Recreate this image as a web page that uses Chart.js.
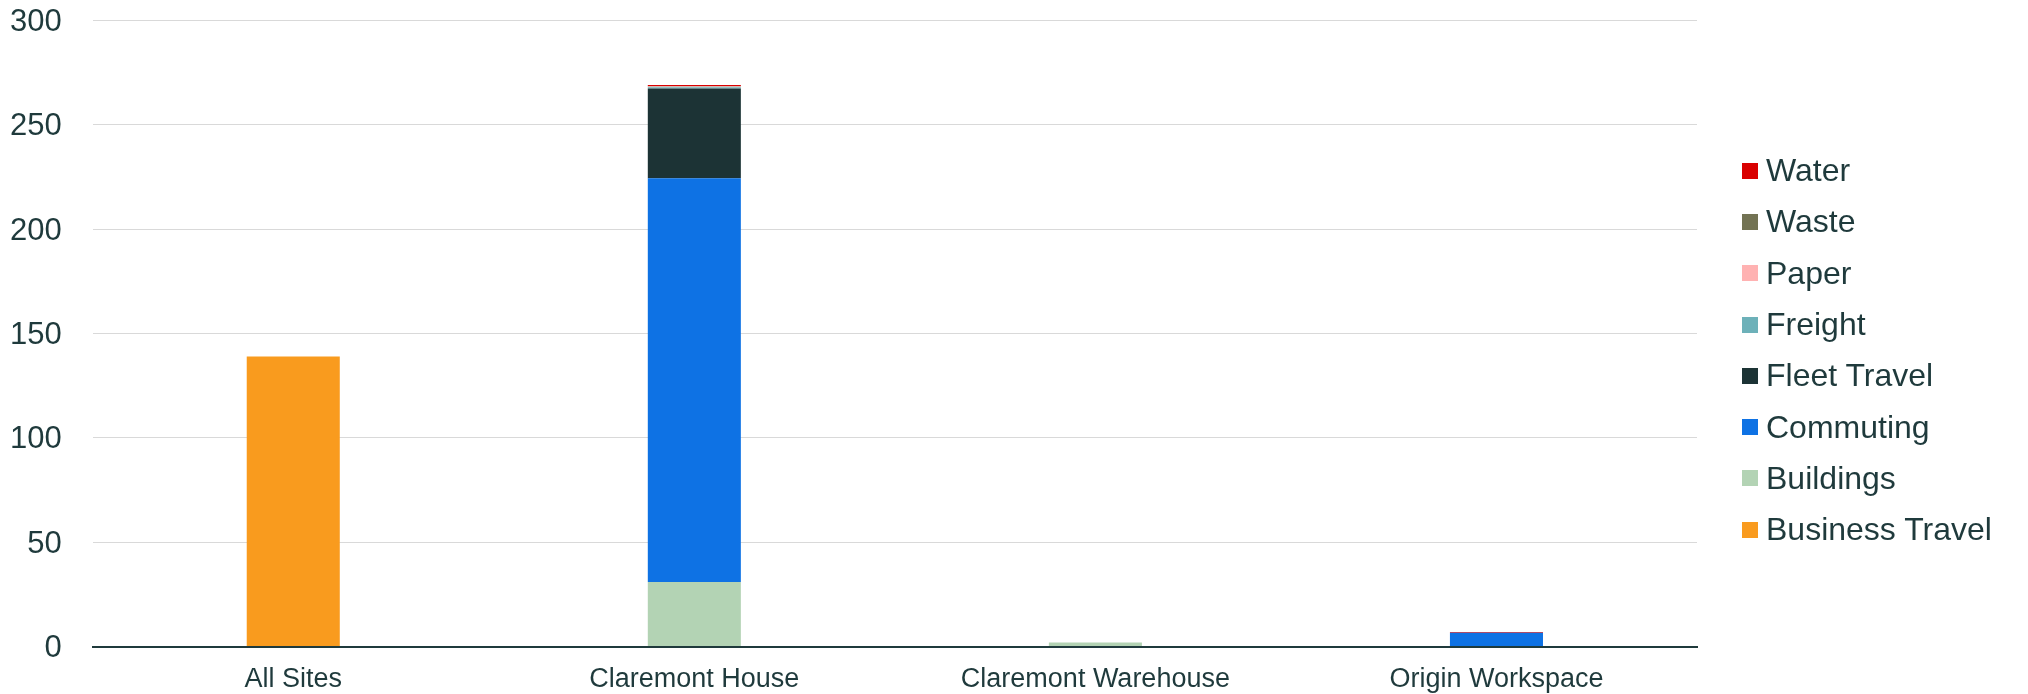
<!DOCTYPE html>
<html>
<head>
<meta charset="utf-8">
<script src="https://cdn.jsdelivr.net/npm/chart.js@4/dist/chart.umd.min.js"></script>
<style>
  html, body { margin: 0; padding: 0; background: #ffffff; }
  #wrap { width: 2028px; height: 694px; position: relative; }
  #legend {
    position: absolute; left: 1742px; top: 145px;
    font-family: "Liberation Sans", Arial, Helvetica, sans-serif;
    font-size: 32px; color: #1f3a3c;
  }
  #legend .item { display: flex; align-items: center; height: 51.3px; white-space: nowrap; }
  #legend .box { width: 16px; height: 16px; margin-right: 8px; flex: none; }
</style>
</head>
<body>
<div id="wrap"><canvas id="chart"></canvas><div id="legend"></div></div>
<script>
// Emissions by site, stacked by source
const categories = ['All Sites', 'Claremont House', 'Claremont Warehouse', 'Origin Workspace'];
const businessTravel = [139, 0, 0, 0];
const buildings      = [0, 31, 2, 0];
const commuting      = [0, 193.5, 0, 6.6];
const fleetTravel    = [0, 43, 0, 0];
const freight        = [0, 0.5, 0, 0];
const paper          = [0, 0.4, 0, 0];
const waste          = [0, 0.2, 0, 0];
const water          = [0, 0.5, 0, 0.4];
const yTicks = [0, 50, 100, 150, 200, 250, 300];

const textColor = '#1f3a3c';
const fontFamily = '"Liberation Sans", Arial, Helvetica, sans-serif';

const series = [
  { label: 'Business Travel', data: businessTravel, color: '#f99b1e' },
  { label: 'Buildings',       data: buildings,      color: '#b3d3b4' },
  { label: 'Commuting',       data: commuting,      color: '#0e72e4' },
  { label: 'Fleet Travel',    data: fleetTravel,    color: '#1c3335' },
  { label: 'Freight',         data: freight,        color: '#6db1b9' },
  { label: 'Paper',           data: paper,          color: '#ffb2b2' },
  { label: 'Waste',           data: waste,          color: '#737353' },
  { label: 'Water',           data: water,          color: '#d90000' }
];

const chart = new Chart(document.getElementById('chart'), {
  type: 'bar',
  data: {
    labels: categories,
    datasets: series.map(s => ({
      label: s.label,
      data: s.data,
      backgroundColor: s.color,
      borderWidth: 0,
      categoryPercentage: 1,
      barPercentage: 0.232
    }))
  },
  options: {
    responsive: true,
    maintainAspectRatio: false,
    animation: false,
    layout: { padding: { left: 8, right: 331, top: 0, bottom: -19 } },
    plugins: {
      tooltip: { enabled: false },
      legend: { display: false }
    },
    scales: {
      x: {
        stacked: true,
        grid: { display: false, drawTicks: false },
        border: { display: true, color: '#1f3a3c', width: 2 },
        ticks: {
          color: textColor,
          padding: 17,
          maxRotation: 0,
          font: { family: fontFamily, size: 27 }
        }
      },
      y: {
        stacked: true,
        min: 0,
        max: 300,
        afterBuildTicks: axis => { axis.ticks = yTicks.map(v => ({ value: v })); },
        grid: { color: '#d9d9d9', lineWidth: 1, drawTicks: true, tickLength: 29, tickColor: 'rgba(0,0,0,0)' },
        border: { display: false },
        ticks: {
          color: textColor,
          padding: 2,
          labelOffset: 2,
          font: { family: fontFamily, size: 31 }
        }
      }
    }
  }
});

// Legend listed top-down in reverse stacking order
const legendEl = document.getElementById('legend');
chart.data.datasets.slice().reverse().forEach(ds => {
  const item = document.createElement('div');
  item.className = 'item';
  const box = document.createElement('span');
  box.className = 'box';
  box.style.background = ds.backgroundColor;
  const txt = document.createElement('span');
  txt.textContent = ds.label;
  item.appendChild(box);
  item.appendChild(txt);
  legendEl.appendChild(item);
});
</script>
</body>
</html>
